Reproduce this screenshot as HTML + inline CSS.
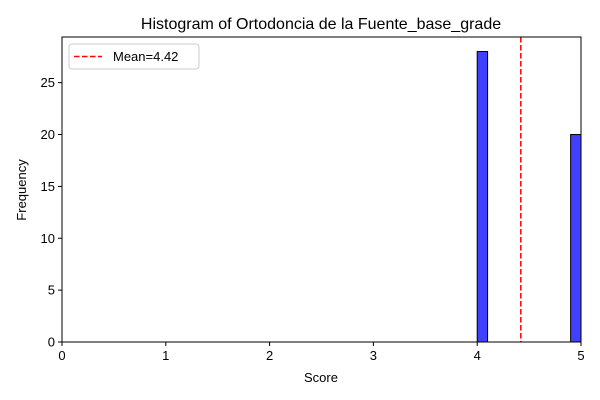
<!DOCTYPE html>
<html><head><meta charset="utf-8"><style>
body{margin:0;background:#fff;}
svg{display:block;font-family:"Liberation Sans","DejaVu Sans",sans-serif;}
</style></head><body>
<svg id="chart" width="600" height="400">
<text x="321" y="29" font-size="16" text-anchor="middle">Histogram of Ortodoncia de la Fuente_base_grade</text>
<text x="321" y="382" font-size="13" text-anchor="middle">Score</text>
<text x="26" y="190" font-size="13" text-anchor="middle" transform="rotate(-90 26 190)">Frequency</text>
<g id="marks"></g>
<g id="axes"></g>
</svg>
<script>
const binStarts=[4.0,4.1,4.2,4.3,4.4,4.5,4.6,4.7,4.8,4.9];
const counts=[28,0,0,0,0,0,0,0,0,20];
const binWidth=0.1;
const meanValue=4.42;
const xTicks=[0,1,2,3,4,5];
const yTicks=[0,5,10,15,20,25];
const L=62,R=581,T=37,B=342,xMax=5,yMax=29.4;
const NS="http://www.w3.org/2000/svg";
const sx=v=>L+(R-L)*v/xMax, sy=v=>B-(B-T)*v/yMax;
function mk(tag,attrs,parent){const e=document.createElementNS(NS,tag);for(const k in attrs)e.setAttribute(k,attrs[k]);parent.appendChild(e);return e;}
const marks=document.getElementById('marks'),axes=document.getElementById('axes');
binStarts.forEach((b,i)=>{
 const x0=sx(b),x1=sx(b+binWidth),y=sy(counts[i]);
 const r=mk('rect',{x:x0,y:y,width:x1-x0,height:B-y,fill:'#4040ff',stroke:'#000','stroke-width':1},marks);
 
 
});
const ml=mk('line',{x1:sx(meanValue),x2:sx(meanValue),y1:T,y2:B,stroke:'#ff0000','stroke-width':1.5,'stroke-dasharray':'5.5,2.5'},marks);


const frame=mk('rect',{x:L,y:T,width:R-L,height:B-T,fill:'none',stroke:'#000','stroke-width':1},axes);


xTicks.forEach(t=>{
 mk('line',{x1:sx(t),x2:sx(t),y1:B,y2:B+4,stroke:'#000'},axes);
 const tx=mk('text',{x:sx(t),y:B+18,'font-size':13,'text-anchor':'middle'},axes);
 tx.textContent=t;
 
 
});
yTicks.forEach(t=>{
 mk('line',{x1:L-4,x2:L,y1:sy(t),y2:sy(t),stroke:'#000'},axes);
 const tx=mk('text',{x:L-7,y:sy(t)+4.5,'font-size':13,'text-anchor':'end'},axes);
 tx.textContent=t;
 
 
});
const lg=mk('g',{},axes);


mk('rect',{x:69,y:44,width:130,height:25,rx:3,fill:'#fff',stroke:'#ccc'},lg);
mk('line',{x1:74,x2:102,y1:56.5,y2:56.5,stroke:'#ff0000','stroke-width':1.5,'stroke-dasharray':'5.5,2.5'},lg);
const lt=mk('text',{x:113,y:61,'font-size':13},lg);
lt.textContent='Mean='+meanValue.toFixed(2);


</script>
</body></html>
